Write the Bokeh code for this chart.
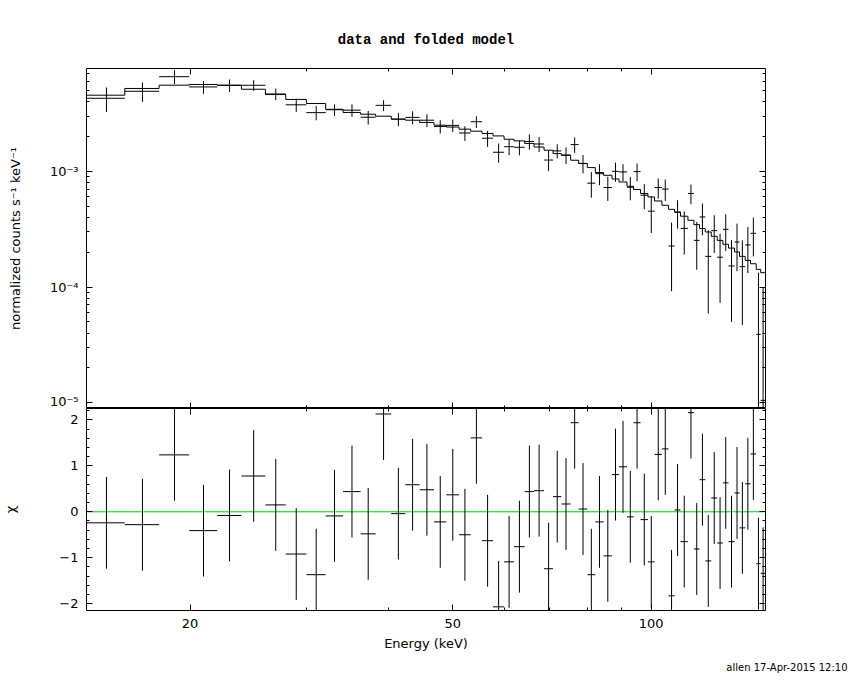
from bokeh.plotting import figure
from bokeh.models import (LogAxis, LinearAxis, FixedTicker, Span, Range1d, Title,
                          BasicTickFormatter, ColumnDataSource)
from bokeh.layouts import column
from bokeh.embed import file_html
from bokeh.resources import INLINE

# ---------------- data ----------------
# channel (bin) edges, keV
edges = [13.95, 15.92, 17.95, 19.93, 21.98, 23.92, 26.01, 27.92, 30.01, 32.10,
         34.11, 36.26, 38.21, 40.36, 42.39, 44.56, 46.85, 48.91, 51.13, 53.24,
         55.40, 57.57, 59.83, 61.95, 64.28, 66.43, 68.79, 70.98, 73.07, 75.47,
         77.61, 80.00, 82.26, 84.68, 87.19, 89.35, 91.88, 94.01, 96.34, 98.86,
         101.16, 103.80, 106.22, 108.47, 110.75, 113.66, 116.06, 118.37, 120.75, 123.30,
         125.89, 128.42, 130.95, 133.72, 136.08, 138.81, 141.40, 144.24, 146.52, 149.0]

# normalized counts s^-1 keV^-1, in units of 1e-3
rate = [4.27, 4.91, 6.56, 5.35, 5.52, 5.53, 4.65, 3.75, 3.21, 3.40,
        3.37, 2.93, 3.71, 2.82, 2.92, 2.76, 2.44, 2.49, 2.14, 2.68,
        1.93, 1.46, 1.63, 1.61, 1.81, 1.72, 1.25, 1.50, 1.38, 1.70,
        1.17, 0.789, 0.953, 0.724, 0.999, 0.987, 0.727, 0.993, 0.621, 0.452,
        0.723, 0.701, 0.226, 0.441, 0.321, 0.643, 0.253, 0.403, 0.184, 0.307,
        0.181, 0.315, 0.152, 0.245, 0.150, 0.231, 0.291, 0.039, 0.0105]

rate_err = [1.02, 0.936, 0.907, 0.687, 0.68, 0.587, 0.539, 0.498, 0.454, 0.394,
            0.42, 0.394, 0.394, 0.372, 0.376, 0.348, 0.321, 0.306, 0.31, 0.31,
            0.304, 0.277, 0.252, 0.239, 0.274, 0.256, 0.246, 0.211, 0.227, 0.258,
            0.21, 0.197, 0.196, 0.17, 0.19, 0.163, 0.166, 0.173, 0.151, 0.159,
            0.142, 0.147, 0.134, 0.121, 0.13, 0.124, 0.112, 0.123, 0.125, 0.11,
            0.108, 0.11, 0.102, 0.108, 0.103, 0.099, 0.107, 0.094, 0.0895]

model = [4.54, 5.19, 5.54, 5.62, 5.54, 5.11, 4.60, 4.17, 3.85, 3.43,
         3.22, 3.11, 2.99, 2.82, 2.76, 2.64, 2.50, 2.41, 2.31, 2.22,
         2.12, 2.02, 1.89, 1.83, 1.74, 1.62, 1.52, 1.42, 1.375, 1.245,
         1.166, 1.076, 0.975, 0.923, 0.858, 0.808, 0.742, 0.695, 0.642, 0.600,
         0.554, 0.508, 0.469, 0.445, 0.409, 0.377, 0.346, 0.320, 0.299, 0.274,
         0.253, 0.234, 0.217, 0.201, 0.184, 0.170, 0.159, 0.142, 0.133]

chi = [-0.24, -0.28, 1.24, -0.41, -0.08, 0.78, 0.15, -0.92, -1.37, -0.09,
       0.44, -0.48, 2.13, -0.04, 0.59, 0.48, -0.22, 0.37, -0.50, 1.61,
       -0.63, -2.07, -1.09, -0.76, 0.44, 0.46, -1.24, 0.33, 0.17, 1.94,
       0.06, -1.37, -0.22, -0.96, 0.81, 0.98, -0.11, 1.94, -0.17, -1.09,
       1.25, 1.37, -1.83, 0.04, -0.65, 2.16, -0.81, 0.70, -1.07, 0.30,
       -0.68, 0.63, -0.65, 0.41, -0.35, 0.61, 1.26, -1.13, -1.34]

chi_err = [1.0, 1.0, 1.0, 1.0, 1.0, 1.0, 1.0, 1.0, 1.0, 1.0,
           1.0, 1.0, 1.0, 1.0, 1.0, 1.0, 1.0, 1.0, 1.0, 1.0,
           1.0, 1.0, 1.0, 1.0, 1.0, 1.0, 1.0, 1.0, 1.0, 1.0,
           1.0, 1.0, 1.0, 1.0, 1.0, 1.0, 1.0, 1.0, 1.0, 1.0,
           1.0, 1.0, 1.0, 1.0, 1.0, 1.0, 1.0, 1.0, 1.0, 1.0,
           1.0, 1.0, 1.0, 1.0, 1.0, 1.0, 1.0, 1.0, 1.0]

x_ticks = [20, 50, 100]
x_minor = [30, 40, 60, 70, 80, 90]
y_ticks = [1e-5, 1e-4, 1e-3]
y_labels = ["10\u207b\u2075", "10\u207b\u2074", "10\u207b\u00b3"]
chi_ticks = [-2, -1, 0, 1, 2]

title_text = "data and folded model"
ylabel_text = "normalized counts s\u207b\u00b9 keV\u207b\u00b9"
chilabel_text = "\u03c7"
xlabel_text = "Energy (keV)"
footer_text = "allen 17-Apr-2015 12:10"

# ---------------- derived ----------------
SCALE = 1e-3
lo = edges[:-1]
hi = edges[1:]
mid = [(a + b) / 2 for a, b in zip(lo, hi)]
r = [v * SCALE for v in rate]
re = [v * SCALE for v in rate_err]
m = [v * SCALE for v in model]
r_top = [a + b for a, b in zip(r, re)]
r_bot = [max(a - b, 1e-9) for a, b in zip(r, re)]

step_x, step_y = [], []
for a, b, v in zip(lo, hi, m):
    step_x += [a, b]
    step_y += [v, v]

c_top = [a + b for a, b in zip(chi, chi_err)]
c_bot = [a - b for a, b in zip(chi, chi_err)]

FONT = "DejaVu Sans"
xr = Range1d(13.93, 149.0)
LEFT, RIGHT = 85, 86


def style_axis(ax, labels):
    ax.axis_line_color = None
    ax.major_tick_in = 6
    ax.major_tick_out = 0
    ax.minor_tick_in = 3
    ax.minor_tick_out = 0
    ax.major_tick_line_color = "black"
    ax.minor_tick_line_color = "black"
    if labels:
        ax.major_label_text_font = FONT
        ax.major_label_text_font_size = "13px"
        ax.major_label_text_color = "black"
        ax.major_label_standoff = 8
        ax.axis_label_text_font = FONT
        ax.axis_label_text_font_size = "13px"
        ax.axis_label_text_font_style = "normal"
        ax.axis_label_text_color = "black"
    else:
        ax.major_label_text_font_size = "1px"
        ax.major_label_text_color = None
        ax.major_label_standoff = 0


# ---------------- top panel ----------------
p1 = figure(x_axis_type="log", y_axis_type="log", x_range=xr,
            y_range=Range1d(8.93e-6, 7.72e-3),
            frame_width=679, frame_height=340,
            min_border_left=LEFT, min_border_right=RIGHT, min_border_top=68, min_border_bottom=0,
            x_axis_location=None, y_axis_location=None,
            toolbar_location=None, output_backend="svg")
p1.grid.visible = False
p1.outline_line_color = "black"
p1.outline_line_width = 1
p1.outline_line_alpha = 1.0
p1.title = Title(text=title_text, align="center", text_font="Liberation Mono",
                 text_font_style="bold", text_font_size="14px", text_color="black",
                 standoff=41)

xt = FixedTicker(ticks=x_ticks, minor_ticks=x_minor)
y_minor = [k * t for t in [1e-6, 1e-5, 1e-4, 1e-3] for k in range(2, 10)]
yt = FixedTicker(ticks=y_ticks, minor_ticks=y_minor)

for loc in ("above", "below"):
    ax = LogAxis(ticker=xt, formatter=BasicTickFormatter())
    style_axis(ax, False)
    p1.add_layout(ax, loc)
axl = LogAxis(ticker=yt, major_label_overrides=dict(zip(y_ticks, y_labels)))
style_axis(axl, True)
axl.axis_label = ylabel_text
axl.axis_label_standoff = 24
p1.add_layout(axl, "left")
axr = LogAxis(ticker=yt)
style_axis(axr, False)
p1.add_layout(axr, "right")

src = ColumnDataSource(dict(lo=lo, hi=hi, mid=mid, r=r, rt=r_top, rb=r_bot,
                            chi=chi, ct=c_top, cb=c_bot))
p1.segment(x0="mid", x1="mid", y0="rb", y1="rt", source=src, line_color="black", line_width=1)
p1.segment(x0="lo", x1="hi", y0="r", y1="r", source=src, line_color="black", line_width=1)
p1.line(step_x, step_y, line_color="black", line_width=1)

# ---------------- bottom panel ----------------
p2 = figure(x_axis_type="log", x_range=xr, y_range=Range1d(-2.15, 2.25),
            frame_width=679, frame_height=202,
            min_border_left=LEFT, min_border_right=RIGHT, min_border_top=0, min_border_bottom=66,
            x_axis_location=None, y_axis_location=None,
            toolbar_location=None, output_backend="svg")
p2.grid.visible = False
p2.outline_line_color = "black"
p2.outline_line_width = 1
p2.outline_line_alpha = 1.0

axb = LogAxis(ticker=xt, formatter=BasicTickFormatter())
style_axis(axb, True)
axb.major_label_standoff = 8
axb.axis_label = xlabel_text
axb.axis_label_standoff = 5
p2.add_layout(axb, "below")
axa = LogAxis(ticker=xt, formatter=BasicTickFormatter())
style_axis(axa, False)
p2.add_layout(axa, "above")

chi_minor = [-2.0, -1.8, -1.6, -1.4, -1.2, -0.8, -0.6, -0.4, -0.2, 0.2, 0.4, 0.6, 0.8,
             1.2, 1.4, 1.6, 1.8, 2.2]
ct = FixedTicker(ticks=chi_ticks, minor_ticks=chi_minor)
axl2 = LinearAxis(ticker=ct, formatter=BasicTickFormatter())
style_axis(axl2, True)
axl2.axis_label = chilabel_text
axl2.axis_label_standoff = 38
p2.add_layout(axl2, "left")
axr2 = LinearAxis(ticker=ct)
style_axis(axr2, False)
p2.add_layout(axr2, "right")

p2.add_layout(Span(location=0, dimension="width", line_color="#00c800", line_width=1,
                   level="underlay"))
p2.segment(x0="mid", x1="mid", y0="cb", y1="ct", source=src, line_color="black", line_width=1)
p2.segment(x0="lo", x1="hi", y0="chi", y1="chi", source=src, line_color="black", line_width=1)

p2.add_layout(Title(text=footer_text, align="right", offset=-82, text_font=FONT,
                    text_font_style="normal", text_font_size="10px", text_color="black",
                    standoff=12), "below")

layout = column(p1, p2)
open("out.html", "w").write(file_html(layout, INLINE))
